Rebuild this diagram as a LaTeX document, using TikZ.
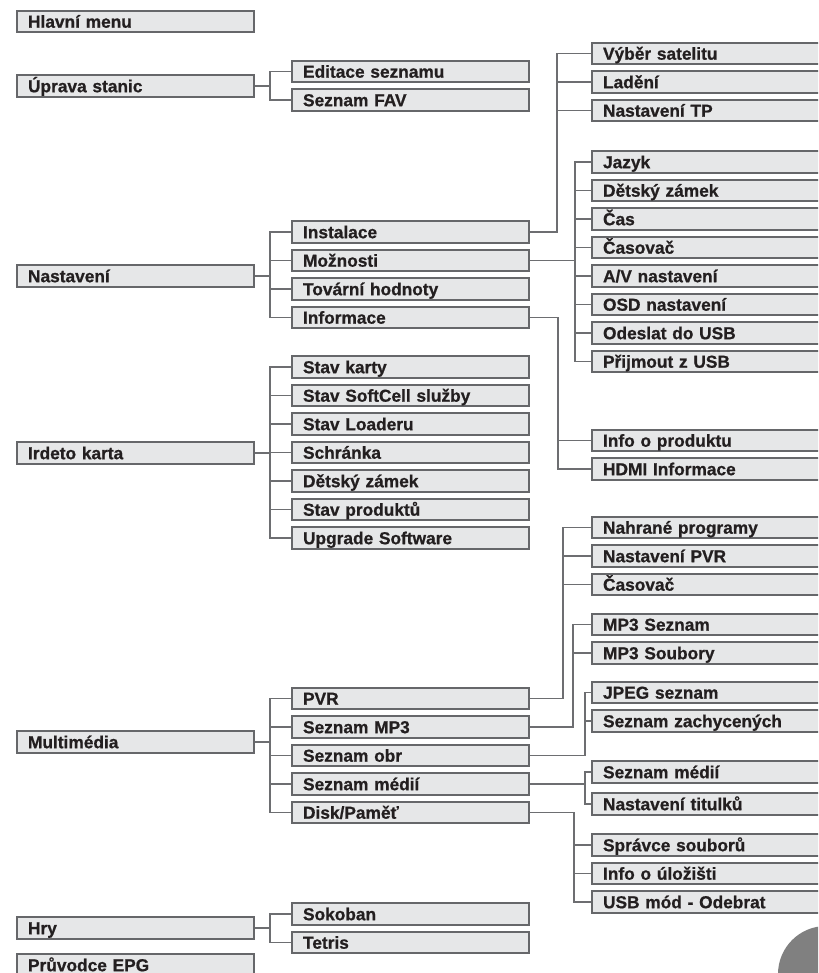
\documentclass[tikz,border=0pt]{standalone}
\usepackage{fontspec}
\setmainfont{Liberation Sans}[BoldFeatures={FakeBold=0.8}]
\definecolor{bordc}{HTML}{66676A}
\definecolor{connc}{HTML}{6D6E71}
\definecolor{fillc}{HTML}{E6E7E8}
\definecolor{textc}{HTML}{231F20}
\definecolor{circc}{HTML}{808080}
\tikzset{
  mbox/.style={draw=bordc, line width=2.1pt, fill=fillc, rectangle, anchor=west,
    minimum height=21.7pt, inner xsep=11pt, inner ysep=0pt, text height=12.4pt,
    text depth=0pt, align=left, text=textc,
    font=\bfseries\fontsize{17.3}{20}\selectfont},
  lbox/.style={mbox, text width=215pt},
  rbox/.style={mbox, text width=230pt},
  conn/.style={draw=connc, line width=1.9pt},
}
\begin{document}
\begin{tikzpicture}[x=1pt,y=-1pt]
\useasboundingbox (0,0) rectangle (818,973);
\clip (0,0) rectangle (818,973);
\fill[white] (0,0) rectangle (818,973);
% left column
\node[lbox] (hlav) at (16,21.5) {Hlavní menu};
\node[lbox] (upr) at (16,86) {Úprava stanic};
\node[lbox] (nast) at (16,276) {Nastavení};
\node[lbox] (ird) at (16,453) {Irdeto karta};
\node[lbox] (mm) at (16,742) {Multimédia};
\node[lbox] (hry) at (16,928) {Hry};
\node[lbox] (epg) at (16,965) {Průvodce EPG};
% middle column
\node[lbox] (edit) at (291,71.5) {Editace seznamu};
\node[lbox] (fav) at (291,100) {Seznam FAV};
\node[lbox] (inst) at (291,232) {Instalace};
\node[lbox] (moz) at (291,260.5) {Možnosti};
\node[lbox] (tov) at (291,289) {Tovární hodnoty};
\node[lbox] (inf) at (291,317.5) {Informace};
\node[lbox] (stk) at (291,367) {Stav karty};
\node[lbox] (soft) at (291,395.5) {Stav SoftCell služby};
\node[lbox] (load) at (291,424) {Stav Loaderu};
\node[lbox] (schr) at (291,452.5) {Schránka};
\node[lbox] (detz) at (291,481) {Dětský zámek};
\node[lbox] (prod) at (291,509.5) {Stav produktů};
\node[lbox] (upg) at (291,538) {Upgrade Software};
\node[lbox] (pvr) at (291,698.5) {PVR};
\node[lbox] (smp) at (291,727) {Seznam MP3};
\node[lbox] (sobr) at (291,755.5) {Seznam obr};
\node[lbox] (smed) at (291,784) {Seznam médií};
\node[lbox] (disk) at (291,812.5) {Disk/Paměť};
\node[lbox] (sok) at (291,914) {Sokoban};
\node[lbox] (tet) at (291,942.5) {Tetris};
% right column
\node[rbox] (vyb) at (591,53.5) {Výběr satelitu};
\node[rbox] (lad) at (591,82) {Ladění};
\node[rbox] (ntp) at (591,110.5) {Nastavení TP};
\node[rbox] (jaz) at (591,162) {Jazyk};
\node[rbox] (det) at (591,190.5) {Dětský zámek};
\node[rbox] (cas) at (591,219) {Čas};
\node[rbox] (casv) at (591,247.5) {Časovač};
\node[rbox] (av) at (591,276) {A/V nastavení};
\node[rbox] (osd) at (591,304.5) {OSD nastavení};
\node[rbox] (odes) at (591,333) {Odeslat do USB};
\node[rbox] (prij) at (591,361.5) {Přijmout z USB};
\node[rbox] (infp) at (591,440.5) {Info o produktu};
\node[rbox] (hdmi) at (591,469) {HDMI Informace};
\node[rbox] (nahr) at (591,527.5) {Nahrané programy};
\node[rbox] (npvr) at (591,556) {Nastavení PVR};
\node[rbox] (casp) at (591,584.5) {Časovač};
\node[rbox] (mps) at (591,624.5) {MP3 Seznam};
\node[rbox] (mpf) at (591,653) {MP3 Soubory};
\node[rbox] (jpg) at (591,692.5) {JPEG seznam};
\node[rbox] (zach) at (591,721) {Seznam zachycených};
\node[rbox] (smr) at (591,772) {Seznam médií};
\node[rbox] (tit) at (591,804) {Nastavení titulků};
\node[rbox] (spr) at (591,845) {Správce souborů};
\node[rbox] (ulo) at (591,873.5) {Info o úložišti};
\node[rbox] (usb) at (591,902) {USB mód - Odebrat};
% connectors left -> middle
\foreach \c in {edit,fav} \draw[conn] (upr.east) -- ++(15,0) |- (\c.west);
\foreach \c in {inst,moz,tov,inf} \draw[conn] (nast.east) -- ++(15,0) |- (\c.west);
\foreach \c in {stk,soft,load,schr,detz,prod,upg} \draw[conn] (ird.east) -- ++(15,0) |- (\c.west);
\foreach \c in {pvr,smp,sobr,smed,disk} \draw[conn] (mm.east) -- ++(15,0) |- (\c.west);
\foreach \c in {sok,tet} \draw[conn] (hry.east) -- ++(15,0) |- (\c.west);
% connectors middle -> right
\foreach \c in {vyb,lad,ntp} \draw[conn] (inst.east) -- ++(27,0) |- (\c.west);
\foreach \c in {jaz,det,cas,casv,av,osd,odes,prij} \draw[conn] (moz.east) -- ++(45,0) |- (\c.west);
\foreach \c in {infp,hdmi} \draw[conn] (inf.east) -- ++(28,0) |- (\c.west);
\foreach \c in {nahr,npvr,casp} \draw[conn] (pvr.east) -- ++(33,0) |- (\c.west);
\foreach \c in {mps,mpf} \draw[conn] (smp.east) -- ++(43,0) |- (\c.west);
\foreach \c in {jpg,zach} \draw[conn] (sobr.east) -- ++(55,0) |- (\c.west);
\foreach \c in {smr,tit} \draw[conn] (smed.east) -- ++(55,0) |- (\c.west);
\foreach \c in {spr,ulo,usb} \draw[conn] (disk.east) -- ++(44,0) |- (\c.west);
% page tab
\fill[circc] (826,974) circle (48pt);
\end{tikzpicture}
\end{document}
